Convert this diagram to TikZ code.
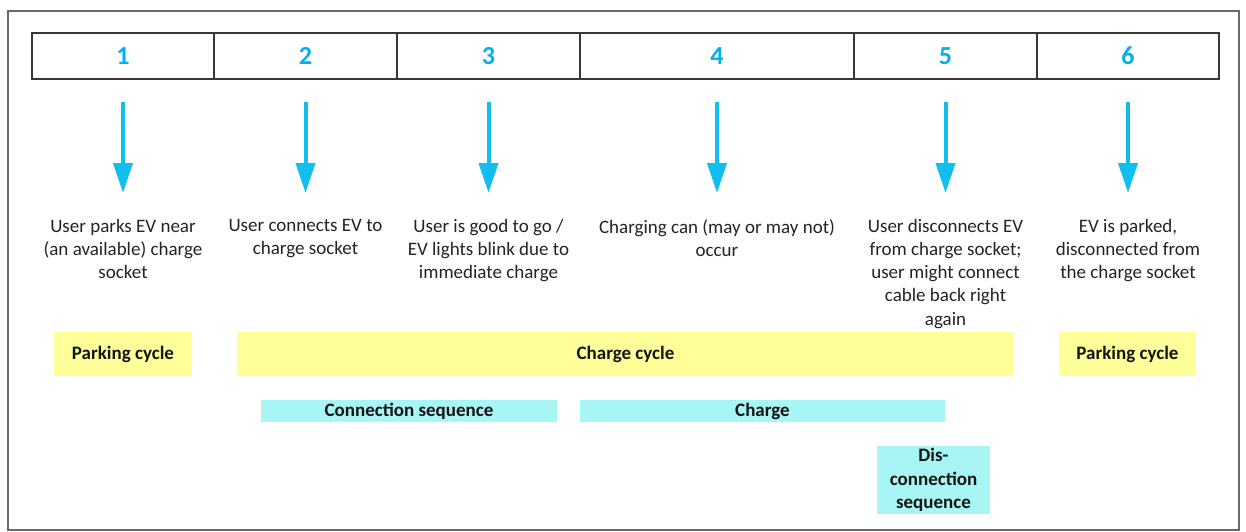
\documentclass[tikz,border=0pt]{standalone}
\usepackage{fontspec}
\setmainfont{Carlito}
\usetikzlibrary{arrows.meta}

\definecolor{numblue}{RGB}{0,176,240}
\definecolor{arrowblue}{RGB}{18,190,240}
\definecolor{barYellow}{RGB}{255,255,153}
\definecolor{barCyan}{RGB}{168,245,245}
\definecolor{frameGray}{RGB}{105,105,105}
\definecolor{cellGray}{RGB}{55,55,55}
\definecolor{bodyText}{RGB}{35,35,35}

\begin{document}
\begin{tikzpicture}[x=1pt,y=-1pt,
  cell/.style={draw=cellGray, line width=1.3pt, inner sep=0pt, minimum height=46pt,
    text=numblue, font=\fontsize{26}{30}\selectfont\bfseries},
  stepnote/.style={anchor=north, align=center, inner sep=0pt, text=bodyText,
    font=\fontsize{19}{23.2}\selectfont},
  flow/.style={draw=arrowblue, line width=4pt, -{Triangle[width=19pt,length=30pt]},
    shorten <=22pt, shorten >=26pt},
  cyclebar/.style={fill=barYellow, inner sep=0pt, minimum height=44pt,
    text=black!92, font=\fontsize{19}{23.2}\selectfont\bfseries},
  seqbar/.style={fill=barCyan, inner sep=0pt, align=center,
    text=black!92, font=\fontsize{19}{23.2}\selectfont\bfseries}]

\useasboundingbox (0,0) rectangle (1246,532);

% outer frame
\draw[frameGray, line width=2pt] (8,11) rectangle (1239,530);

% numbered header cells
\node[cell, minimum width=182pt] (h1) at (123,56)    {1};
\node[cell, minimum width=183pt] (h2) at (305.5,56)  {2};
\node[cell, minimum width=183pt] (h3) at (488.5,56)  {3};
\node[cell, minimum width=274pt] (h4) at (717,56)    {4};
\node[cell, minimum width=183pt] (h5) at (945.5,56)  {5};
\node[cell, minimum width=182pt] (h6) at (1128,56)   {6};

% step descriptions
\node[stepnote] (t1) at (123,219)    {User parks EV near\\(an available) charge\\socket};
\node[stepnote] (t2) at (305.5,219)  {User connects EV to\\charge socket};
\node[stepnote] (t3) at (488.5,219)  {User is good to go /\\EV lights blink due to\\immediate charge};
\node[stepnote] (t4) at (717,219)    {Charging can (may or may not)\\occur};
\node[stepnote] (t5) at (945.5,219)  {User disconnects EV\\from charge socket;\\user might connect\\cable back right\\again};
\node[stepnote] (t6) at (1128,219)   {EV is parked,\\disconnected from\\the charge socket};

% arrows from each step number to its description
\foreach \i in {1,...,6}
  \draw[flow] (h\i.south) -- (t\i.north);

% cycles
\node[cyclebar, minimum width=138pt] (p1) at (123,354)    {Parking cycle};
\node[cyclebar, minimum width=777pt] (cc) at (625.5,354)  {Charge cycle};
\node[cyclebar, minimum width=137pt] (p2) at (1127.5,354) {Parking cycle};

% sequences
\node[seqbar, minimum width=296pt, minimum height=22pt] (cs) at (409,411)   {Connection sequence};
\node[seqbar, minimum width=365pt, minimum height=22pt] (ch) at (762.5,411) {Charge};
\node[seqbar, minimum width=113pt, minimum height=68pt] (ds) at (933.5,480) {Dis-\\connection\\sequence};
\end{tikzpicture}
\end{document}
